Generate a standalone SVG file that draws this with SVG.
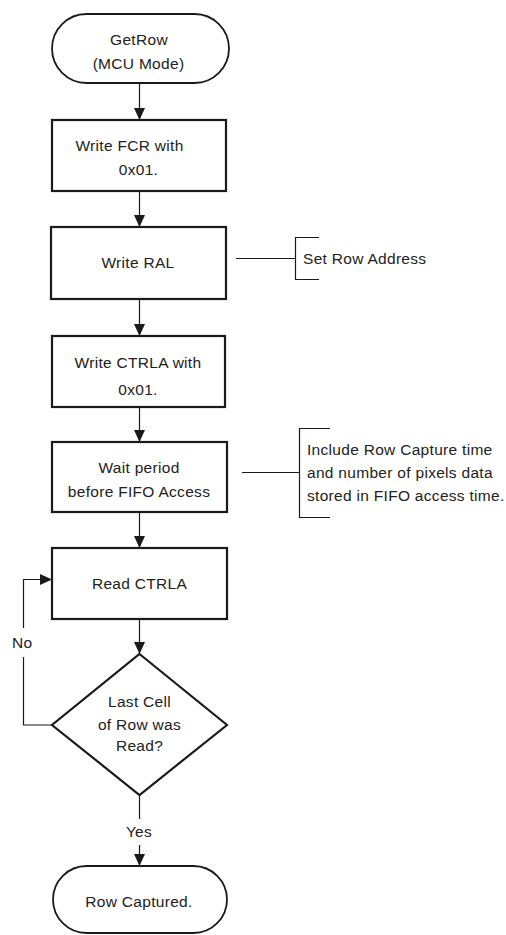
<svg xmlns="http://www.w3.org/2000/svg" width="506" height="935" viewBox="0 0 506 935">
  <style>
    .shape { fill: #fff; stroke: #1a1a1a; stroke-width: 2.2; }
    .term { fill: #fff; stroke: #1a1a1a; stroke-width: 1.8; }
    .wire { fill: none; stroke: #1a1a1a; stroke-width: 1.2; }
    .lbl { font-family: "Liberation Sans", Arial, sans-serif; font-size: 15.5px; fill: #222; letter-spacing: 0.3px; }
    .mid { text-anchor: middle; }
  </style>
  <defs>
    <marker id="arrow" viewBox="0 0 12 12" refX="12" refY="6" markerWidth="12" markerHeight="12" markerUnits="userSpaceOnUse" orient="auto">
      <path d="M0,0.5 L12,6 L0,11.5 Z" fill="#1a1a1a"/>
    </marker>
  </defs>

  <g id="connectors">
    <line class="wire" x1="139.5" y1="83" x2="139.5" y2="120" marker-end="url(#arrow)"/>
    <line class="wire" x1="139.5" y1="191" x2="139.5" y2="227" marker-end="url(#arrow)"/>
    <line class="wire" x1="139.5" y1="299" x2="139.5" y2="336" marker-end="url(#arrow)"/>
    <line class="wire" x1="139.5" y1="407" x2="139.5" y2="442" marker-end="url(#arrow)"/>
    <line class="wire" x1="139.5" y1="512" x2="139.5" y2="548" marker-end="url(#arrow)"/>
    <line class="wire" x1="139.5" y1="619" x2="139.5" y2="654" marker-end="url(#arrow)"/>
    <!-- Yes branch -->
    <line class="wire" x1="139.5" y1="795" x2="139.5" y2="819"/>
    <line class="wire" x1="139.5" y1="845" x2="139.5" y2="866" marker-end="url(#arrow)"/>
    <text class="lbl mid" x="139" y="837">Yes</text>
    <!-- No branch loops back to Read CTRLA -->
    <polyline class="wire" points="52,725 23.5,725 23.5,657"/>
    <polyline class="wire" points="23.5,628 23.5,579.5 52,579.5" marker-end="url(#arrow)"/>
    <text class="lbl" x="12" y="648">No</text>
    <!-- annotation leaders -->
    <line class="wire" x1="236" y1="258.5" x2="295" y2="258.5"/>
    <polyline class="wire" points="319,237.5 295.5,237.5 295.5,279.5 319,279.5"/>
    <line class="wire" x1="242" y1="472.5" x2="299" y2="472.5"/>
    <polyline class="wire" points="330,428.5 299.5,428.5 299.5,517.5 330,517.5"/>
  </g>

  <g id="start">
    <rect class="term" x="52" y="14" width="177" height="69" rx="34.5" ry="34.5"/>
    <text class="lbl mid" x="139" y="45">GetRow</text>
    <text class="lbl mid" x="138.5" y="69">(MCU Mode)</text>
  </g>

  <g id="write-fcr">
    <rect class="shape" x="52" y="120" width="174" height="71"/>
    <text class="lbl mid" x="129.5" y="151">Write FCR with</text>
    <text class="lbl mid" x="138.5" y="175">0x01.</text>
  </g>

  <g id="write-ral">
    <rect class="shape" x="51" y="227" width="175" height="72"/>
    <text class="lbl mid" x="138" y="268">Write RAL</text>
  </g>

  <g id="note-ral">
    <text class="lbl" x="303" y="264">Set Row Address</text>
  </g>

  <g id="write-ctrla">
    <rect class="shape" x="52" y="336" width="173" height="71"/>
    <text class="lbl mid" x="138" y="368">Write CTRLA with</text>
    <text class="lbl mid" x="138" y="395">0x01.</text>
  </g>

  <g id="wait">
    <rect class="shape" x="52" y="442" width="175" height="70"/>
    <text class="lbl mid" x="139" y="473">Wait period</text>
    <text class="lbl mid" x="139" y="497">before FIFO Access</text>
  </g>

  <g id="note-wait">
    <text class="lbl" x="307" y="455">Include Row Capture time</text>
    <text class="lbl" x="307" y="478">and number of pixels data</text>
    <text class="lbl" x="307" y="501">stored in FIFO access time.</text>
  </g>

  <g id="read-ctrla">
    <rect class="shape" x="52" y="548" width="175" height="71"/>
    <text class="lbl mid" x="139.5" y="589">Read CTRLA</text>
  </g>

  <g id="last-cell">
    <polygon class="shape" points="139.5,654 227,725 139.5,795 52,725"/>
    <text class="lbl mid" x="139.5" y="707">Last Cell</text>
    <text class="lbl mid" x="139.5" y="730">of Row was</text>
    <text class="lbl mid" x="139.5" y="751">Read?</text>
  </g>

  <g id="end">
    <rect class="term" x="53" y="866" width="174" height="67" rx="33.5" ry="33.5"/>
    <text class="lbl mid" x="139" y="907">Row Captured.</text>
  </g>
</svg>
